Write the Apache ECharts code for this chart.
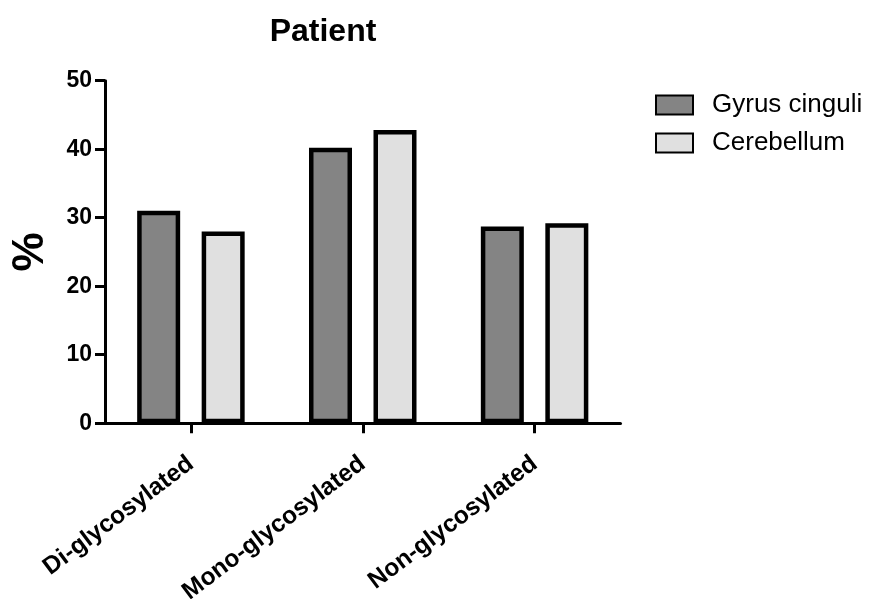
<!DOCTYPE html>
<html>
<head>
<meta charset="utf-8">
<script src="https://cdn.jsdelivr.net/npm/echarts@6/dist/echarts.min.js"></script>
<style>
html,body{margin:0;padding:0;background:#fff;}
#chart{width:878px;height:599px;}
</style>
</head>
<body>
<div id="chart"></div>
<script>
const categories = ['Di-glycosylated', 'Mono-glycosylated', 'Non-glycosylated'];
const seriesNames = ['Gyrus cinguli', 'Cerebellum'];
const gyrusValues = [31.0, 40.2, 28.7];
const cerebellumValues = [28.0, 42.8, 29.2];
const yTicks = [0, 10, 20, 30, 40, 50];

const FONT = 'Liberation Sans, Arial, Helvetica, sans-serif';
const chart = echarts.init(document.getElementById('chart'));

chart.setOption({
  animation: false,
  backgroundColor: '#ffffff',
  title: {
    text: 'Patient',
    left: 318,
    textAlign: 'center',
    top: 11,
    textStyle: { fontFamily: FONT, fontSize: 32, fontWeight: 'bold', color: '#000' }
  },
  legend: {
    data: seriesNames,
    orient: 'vertical',
    left: 655,
    top: 92,
    padding: 0,
    itemWidth: 37,
    itemHeight: 19,
    itemGap: 12,
    icon: 'rect',
    textStyle: { fontFamily: FONT, fontSize: 26, color: '#000', padding: [0, 0, 0, 14] }
  },
  grid: {
    left: 105,
    right: 878 - 620.5,
    top: 80.7,
    bottom: 599 - 423.2,
    containLabel: false,
    outerBoundsMode: 'none'
  },
  xAxis: {
    type: 'category',
    data: categories,
    axisLine: { show: true, lineStyle: { color: '#000', width: 3 } },
    axisTick: { show: true, alignWithLabel: true, length: 10, lineStyle: { color: '#000', width: 3 } },
    axisLabel: { rotate: 37, margin: 38, fontFamily: FONT, fontSize: 24.5, fontWeight: 'bold', color: '#000' },
    splitLine: { show: false }
  },
  yAxis: {
    type: 'value',
    min: yTicks[0],
    max: yTicks[yTicks.length - 1],
    interval: 10,
    name: '%',
    nameLocation: 'middle',
    nameRotate: 90,
    nameGap: 52.5,
    nameTextStyle: { fontFamily: FONT, fontSize: 44, fontWeight: 'bold', color: '#000' },
    axisLine: { show: true, lineStyle: { color: '#000', width: 3 } },
    axisTick: { show: true, length: 10, lineStyle: { color: '#000', width: 3 } },
    axisLabel: { margin: 13, fontFamily: FONT, fontSize: 23, fontWeight: 'bold', color: '#000' },
    splitLine: { show: false }
  },
  series: [
    {
      name: seriesNames[0],
      type: 'bar',
      data: gyrusValues,
      barWidth: 43,
      barGap: '50%',
      itemStyle: { color: '#848484', borderColor: '#000', borderWidth: 4.5 }
    },
    {
      name: seriesNames[1],
      type: 'bar',
      data: cerebellumValues,
      barWidth: 43,
      barGap: '50%',
      itemStyle: { color: '#e0e0e0', borderColor: '#000', borderWidth: 4.5 }
    }
  ]
});
</script>
</body>
</html>
